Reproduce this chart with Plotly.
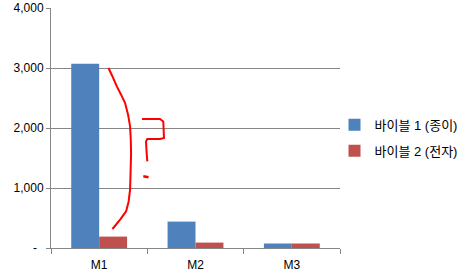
import plotly.graph_objects as go

categories = ["M1", "M2", "M3"]
series1_name = "바이블 1 (종이)"
series2_name = "바이블 2 (전자)"
series1_values = [3070, 440, 75]
series2_values = [190, 90, 75]
y_tick_vals = [0, 1000, 2000, 3000, 4000]
y_tick_text = ["-\u00a0\u00a0", "1,000", "2,000", "3,000", "4,000"]

# plot area in pixels (for the hand-drawn red marks)
L, R, T, B = 50.7, 340.5, 8.3, 248.3
W, H = 469, 276


def px2paper(pts):
    return [((x - L) / (R - L), (B - y) / (B - T)) for x, y in pts]


def make_path(pts):
    p = px2paper(pts)
    return "M " + " L ".join(f"{x:.4f},{y:.4f}" for x, y in p)


bracket = [(108.3, 68.3), (112, 76), (116.7, 86.7), (121, 95), (125, 103.3),
           (128, 115), (130, 126.7), (130.7, 140), (131, 153.3), (130.5, 172),
           (130, 190), (128.5, 202), (126, 211.7), (120, 220), (112.3, 229.3)]
question = [(142, 119.3), (160, 119.3), (163.3, 121.7), (164, 138.3),
            (160, 139.3), (147.3, 139.3), (146, 141.7), (146.5, 152), (147.3, 161.7)]
dot = [(143.3, 176.5), (148.5, 177.5)]

fig = go.Figure()
fig.add_trace(go.Bar(x=categories, y=series1_values, name=series1_name, legendgroup="a",
                     marker=dict(color="#4F81BD", line=dict(width=0))))
fig.add_trace(go.Bar(x=categories, y=series2_values, name=series2_name, legendgroup="b",
                     marker=dict(color="#C0504D", line=dict(width=0))))

shapes = []
for pts, w in ((bracket, 2), (question, 2), (dot, 2.5)):
    shapes.append(dict(type="path", xref="paper", yref="paper", path=make_path(pts),
                       line=dict(color="#FF0000", width=w)))

legend_x_px = 335
fig.update_layout(
    width=W, height=H,
    margin=dict(l=L, r=W - R, t=T, b=H - B, pad=0, autoexpand=False),
    paper_bgcolor="white", plot_bgcolor="white",
    barmode="group", bargap=0.42, bargroupgap=0,
    font=dict(family="Liberation Sans, Arial, Noto Sans CJK KR", size=11, color="#000000"),
    showlegend=True,
    legend=dict(x=(legend_x_px - L) / (R - L), y=(B - 138.2) / (B - T),
                xanchor="left", yanchor="middle",
                font=dict(size=13, family="Liberation Sans, Noto Sans CJK KR"),
                itemwidth=30, tracegroupgap=6, bgcolor="rgba(0,0,0,0)"),
    shapes=shapes,
)
fig.update_xaxes(showgrid=False, showline=True, linecolor="#868686", linewidth=1,
                 ticks="outside", ticklen=5, tickcolor="#868686", tickson="boundaries",
                 ticklabelstandoff=6,
                 tickfont=dict(size=12), zeroline=False, fixedrange=True)
fig.update_yaxes(range=[0, 4000], tickvals=y_tick_vals, ticktext=y_tick_text,
                 showgrid=True, gridcolor="#868686", gridwidth=1,
                 showline=True, linecolor="#868686", linewidth=1,
                 ticks="outside", ticklen=4, tickcolor="#868686",
                 tickfont=dict(size=12), zeroline=False, fixedrange=True)

fig.write_html("out.html")
